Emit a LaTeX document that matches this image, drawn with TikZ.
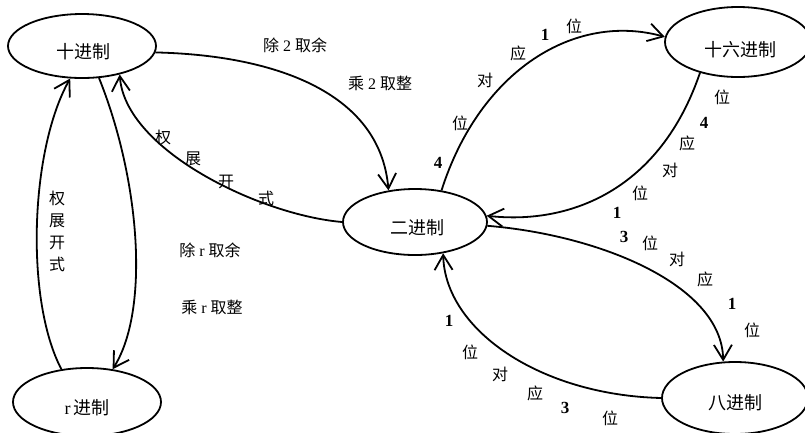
\documentclass[tikz,border=0pt]{standalone}
\usepackage{fontspec}
\setmainfont{Liberation Serif}
\newfontfamily\cjk{Noto Sans CJK SC}
\usetikzlibrary{arrows.meta,shapes.geometric}
\newcommand\zhtxt[1]{{\cjk #1}}
\tikzset{
  state/.style={ellipse, draw, line width=1.8pt, inner sep=0pt},
  nodetxt/.style={font=\fontsize{18}{20}\selectfont\cjk, inner sep=0pt},
  lab/.style={font=\fontsize{16}{18}\selectfont\cjk, inner sep=0pt},
  mixlab/.style={font=\fontsize{16}{18}\selectfont, inner sep=0pt},
  num/.style={font=\fontsize{17}{18}\selectfont\bfseries, inner sep=0pt},
  arr/.style={line width=1.8pt, -{Straight Barb[length=15pt,width=18pt]}}
}
\begin{document}
\begin{tikzpicture}[x=1pt,y=-1pt]
\useasboundingbox (0,0) rectangle (805,432);
% ellipses
\node[state, minimum width=148pt, minimum height=64pt] (D) at (82,46) {};
\node[state, minimum width=144pt, minimum height=66pt] (B) at (415,222) {};
\node[state, minimum width=146pt, minimum height=70pt] (H) at (738,42) {};
\node[state, minimum width=146pt, minimum height=72pt] (O) at (735,398) {};
\node[state, minimum width=148pt, minimum height=68pt] (R) at (87,402) {};
\node[nodetxt] (Dt) at (83,52) {十进制};
\node[nodetxt] (Bt) at (417,228) {二进制};
\node[nodetxt] (Ht) at (740,50) {十六进制};
\node[nodetxt] (Ot) at (735,403) {八进制};
\node[nodetxt] (Rt) at (87,408) {\fontspec{Liberation Serif}r\,\cjk 进制};
% connectors
\draw[arr] (D.-5) .. controls (270,55) and (380,90) .. (B.130);
\draw[arr] (B.180) .. controls (260,215) and (125,150) .. (D.-37);
\draw[arr] (D.-62) .. controls (140,180) and (150,310) .. (R.52);
\draw[arr] (R.128) .. controls (25,300) and (30,150) .. (D.-110);
\draw[arr] (B.50) .. controls (480,70) and (575,12) .. (H.176);
\draw[arr] (H.-141) .. controls (660,190) and (570,225) .. (B.5);
\draw[arr] (B.-3) .. controls (600,235) and (722,285) .. (O.108);
\draw[arr] (O.180) .. controls (540,395) and (445,330) .. (B.-48);
% labels D <-> B
\node[mixlab] (l1) at (295,45) {\zhtxt{除} 2 \zhtxt{取余}};
\node[mixlab] (l2) at (380,83) {\zhtxt{乘} 2 \zhtxt{取整}};
\node[lab] (k1) at (163,137) {权};
\node[lab] (k2) at (193,159) {展};
\node[lab] (k3) at (226,182) {开};
\node[lab] (k4) at (266,198) {式};
% labels D <-> R
\node[lab, align=center, font=\fontsize{16}{22}\selectfont\cjk] (kv) at (57,231) {权\\展\\开\\式};
\node[mixlab] (l3) at (210,250) {\zhtxt{除} r \zhtxt{取余}};
\node[mixlab] (l4) at (212,307) {\zhtxt{乘} r \zhtxt{取整}};
% labels B -> H
\node[num] (a1) at (438,163) {4};
\node[lab] (a2) at (460,123) {位};
\node[lab] (a3) at (485,80) {对};
\node[lab] (a4) at (518,53) {应};
\node[num] (a5) at (545,35) {1};
\node[lab] (a6) at (574,26) {位};
% labels H -> B
\node[lab] (b1) at (722,97) {位};
\node[num] (b2) at (704,123) {4};
\node[lab] (b3) at (687,143) {应};
\node[lab] (b4) at (670,170) {对};
\node[lab] (b5) at (640,193) {位};
\node[num] (b6) at (617,213) {1};
% labels B -> O
\node[num] (c1) at (624,237) {3};
\node[lab] (c2) at (650,243) {位};
\node[lab] (c3) at (677,259) {对};
\node[lab] (c4) at (705,279) {应};
\node[num] (c5) at (732,304) {1};
\node[lab] (c6) at (752,330) {位};
% labels O -> B
\node[num] (d1) at (449,321) {1};
\node[lab] (d2) at (470,352) {位};
\node[lab] (d3) at (500,374) {对};
\node[lab] (d4) at (535,393) {应};
\node[num] (d5) at (565,408) {3};
\node[lab] (d6) at (610,418) {位};
\end{tikzpicture}
\end{document}
